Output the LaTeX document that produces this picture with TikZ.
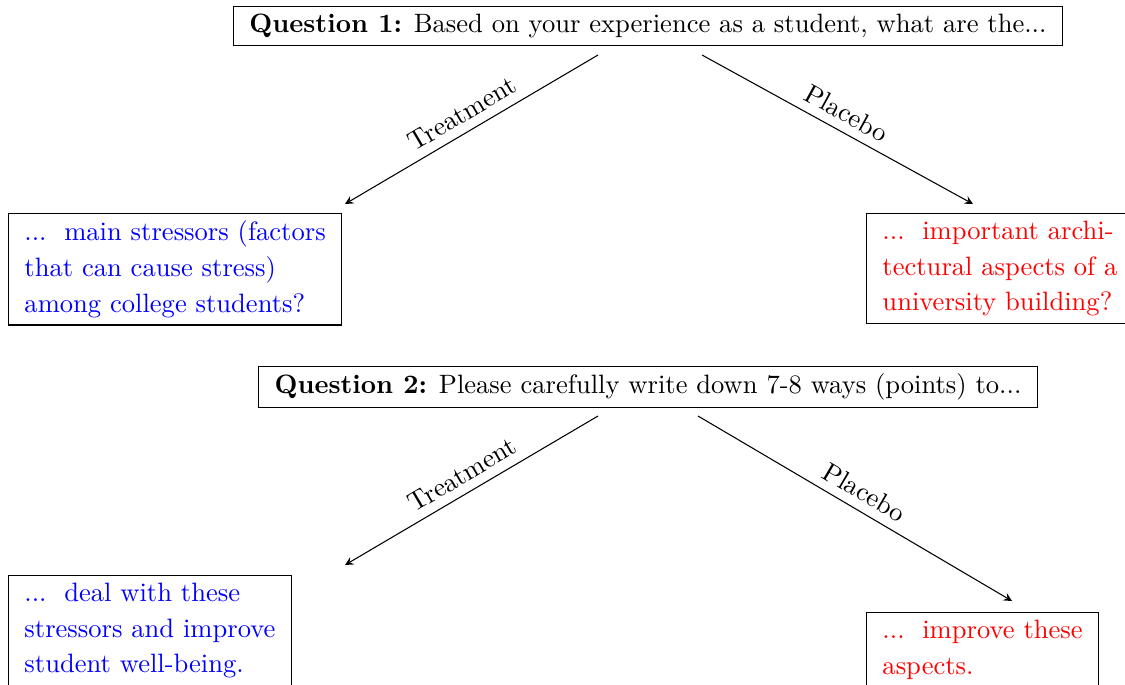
\documentclass[tikz,border=0pt]{standalone}
\usepackage{tikz}
\usetikzlibrary{positioning}

\begin{document}
\begin{tikzpicture}[x=0.3764pt, y=-0.3764pt, >=stealth,
    question/.style={draw, inner xsep=6pt, inner ysep=2.7pt},
    answer/.style={draw, align=left, anchor=north west, inner xsep=6pt, inner ysep=2.7pt,
        font=\fontsize{10pt}{13.5pt}\selectfont},
    cond/.style={sloped, above}]
    \useasboundingbox (0,0) rectangle (1125,684);
    \clip (0,0) rectangle (1125,684);

    % Question 1
    \node[question] (q1) at (648,26) {\textbf{Question 1:} Based on your experience as a student, what are the...};
    \node[answer, text=blue] (treat1) at (8,213) {...\ \ main stressors (factors\\that can cause stress)\\among college students?};
    \node[answer, text=red] (plac1) at (866,213) {...\ \ important archi-\\tectural aspects of a\\university building?};
    \coordinate (q1left) at (598,55);
    \coordinate (q1right) at (702,55);
    \coordinate (treat1end) at (345,204);
    \coordinate (plac1end) at (973,204);
    \draw[->] (q1left) -- node[cond] {Treatment} (treat1end);
    \draw[->] (q1right) -- node[cond] {Placebo} (plac1end);

    % Question 2
    \node[question] (q2) at (648,387) {\textbf{Question 2:} Please carefully write down 7-8 ways (points) to...};
    \node[answer, text=blue] (treat2) at (8,575) {...\ \ deal with these\\stressors and improve\\student well-being.};
    \node[answer, text=red] (plac2) at (866,612) {...\ \ improve these\\aspects.};
    \coordinate (q2left) at (598,416);
    \coordinate (q2right) at (698,416);
    \coordinate (treat2end) at (345,565);
    \coordinate (plac2end) at (1012,601);
    \draw[->] (q2left) -- node[cond] {Treatment} (treat2end);
    \draw[->] (q2right) -- node[cond] {Placebo} (plac2end);
\end{tikzpicture}
\end{document}
